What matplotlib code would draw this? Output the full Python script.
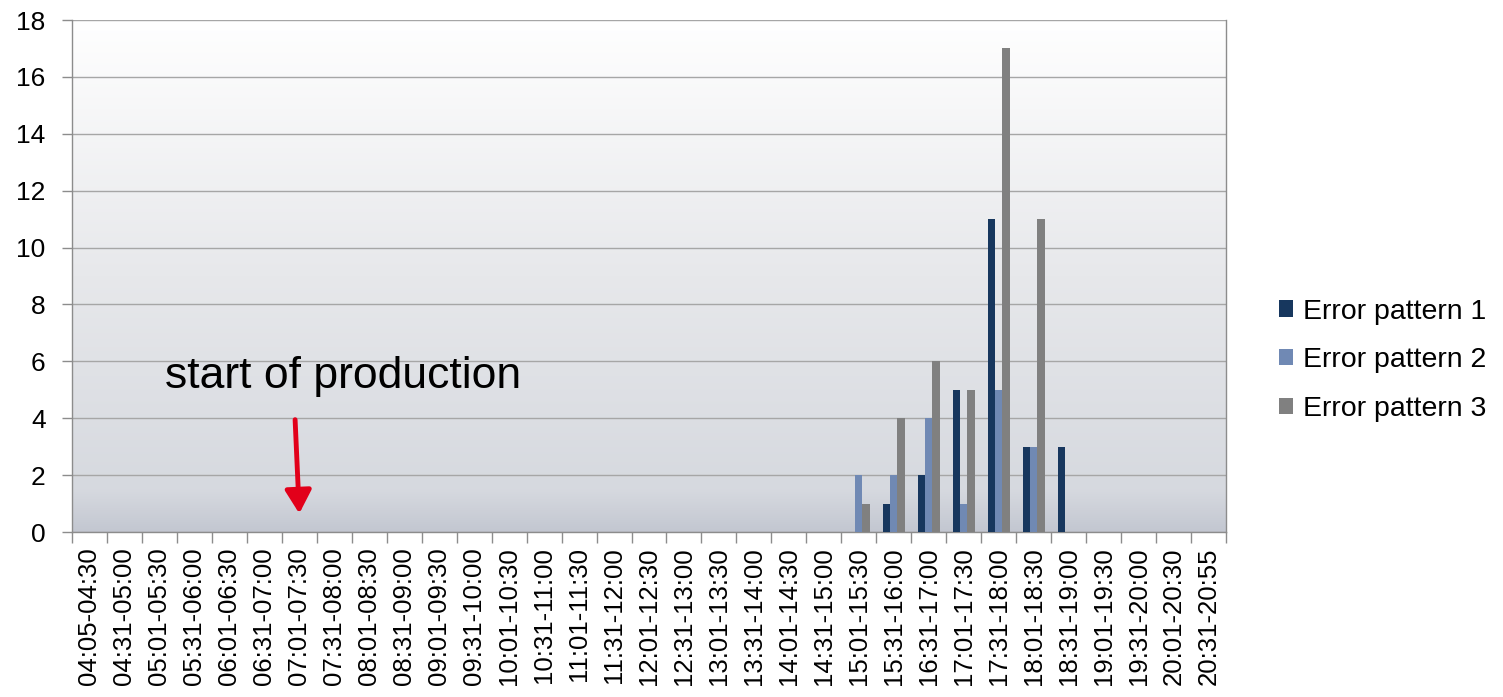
import numpy as np
import matplotlib.pyplot as plt
from matplotlib.colors import LinearSegmentedColormap

plt.rcParams['font.family'] = ['Liberation Sans', 'DejaVu Sans']

CATEGORIES = [
    "04:05-04:30", "04:31-05:00", "05:01-05:30", "05:31-06:00", "06:01-06:30",
    "06:31-07:00", "07:01-07:30", "07:31-08:00", "08:01-08:30", "08:31-09:00",
    "09:01-09:30", "09:31-10:00", "10:01-10:30", "10:31-11:00", "11:01-11:30",
    "11:31-12:00", "12:01-12:30", "12:31-13:00", "13:01-13:30", "13:31-14:00",
    "14:01-14:30", "14:31-15:00", "15:01-15:30", "15:31-16:00", "16:31-17:00",
    "17:01-17:30", "17:31-18:00", "18:01-18:30", "18:31-19:00", "19:01-19:30",
    "19:31-20:00", "20:01-20:30", "20:31-20:55",
]

# counts per slot; slots before 15:01 had no errors
ZEROS = [0] * 22
PATTERN_1 = ZEROS + [0, 1, 2, 5, 11, 3, 3, 0, 0, 0, 0]
PATTERN_2 = ZEROS + [2, 2, 4, 1, 5, 3, 0, 0, 0, 0, 0]
PATTERN_3 = ZEROS + [1, 4, 6, 5, 17, 11, 0, 0, 0, 0, 0]

SERIES = ["Error pattern 1", "Error pattern 2", "Error pattern 3"]
COLORS = ["#17375e", "#7089b4", "#808080"]

fig = plt.figure(figsize=(15.03, 6.97), dpi=100)
ax = fig.add_axes([0.0479, 0.2367, 0.7678, 0.7346])

n = len(CATEGORIES)
x = np.arange(n)
w = 0.21

# background gradient like the office chart
bg = LinearSegmentedColormap.from_list(
    "bg", [(0.0, "#c3c7d1"), (0.08, "#d6d9df"), (0.5, "#e7e8eb"), (1.0, "#ffffff")])
grad = np.linspace(0, 1, 256).reshape(-1, 1)
ax.imshow(grad, aspect="auto", cmap=bg, origin="lower",
          extent=(-0.5, n - 0.5, 0, 18), zorder=0)

for i, (vals, label, col) in enumerate(zip([PATTERN_1, PATTERN_2, PATTERN_3], SERIES, COLORS)):
    ax.bar(x + (i - 1) * w, vals, width=w, color=col, label=label, zorder=3, linewidth=0)

ax.set_xlim(-0.5, n - 0.5)
ax.set_ylim(0, 18)
ax.set_yticks(range(0, 19, 2))
ax.yaxis.grid(True, color="#a6a6a6", linewidth=1.0, zorder=1)
ax.set_axisbelow(True)

ax.set_xticks(x)
ax.set_xticklabels(CATEGORIES, rotation=90, fontsize=18.5)
ax.set_xticks(np.arange(-0.5, n, 1.0), minor=True)
ax.tick_params(axis="x", which="major", length=0, pad=11)
ax.tick_params(axis="x", which="minor", length=8, color="#8c8c8c", width=1)
ax.tick_params(axis="y", length=7, color="#8c8c8c", width=1, labelsize=19, pad=12)

for side in ["left", "bottom", "right"]:
    ax.spines[side].set_color("#8c8c8c")
    ax.spines[side].set_linewidth(1)
ax.spines["top"].set_visible(False)

ax.text(2.16, 5.48, "start of production", fontsize=32, va="center", ha="left", zorder=5)
ax.annotate("", xy=(6.0, 0.65), xytext=(5.88, 3.95),
            arrowprops=dict(arrowstyle="-|>,head_length=0.7,head_width=0.4",
                            mutation_scale=20, color="#e2001a", lw=3.5,
                            shrinkA=0, shrinkB=0),
            zorder=5)

leg = fig.legend(loc="center left", bbox_to_anchor=(0.834, 0.483), frameon=False,
                 fontsize=20.5, handlelength=0.5, handleheight=0.5, handletextpad=0.35,
                 labelspacing=0.8)

fig.savefig("out.png", dpi=100)
